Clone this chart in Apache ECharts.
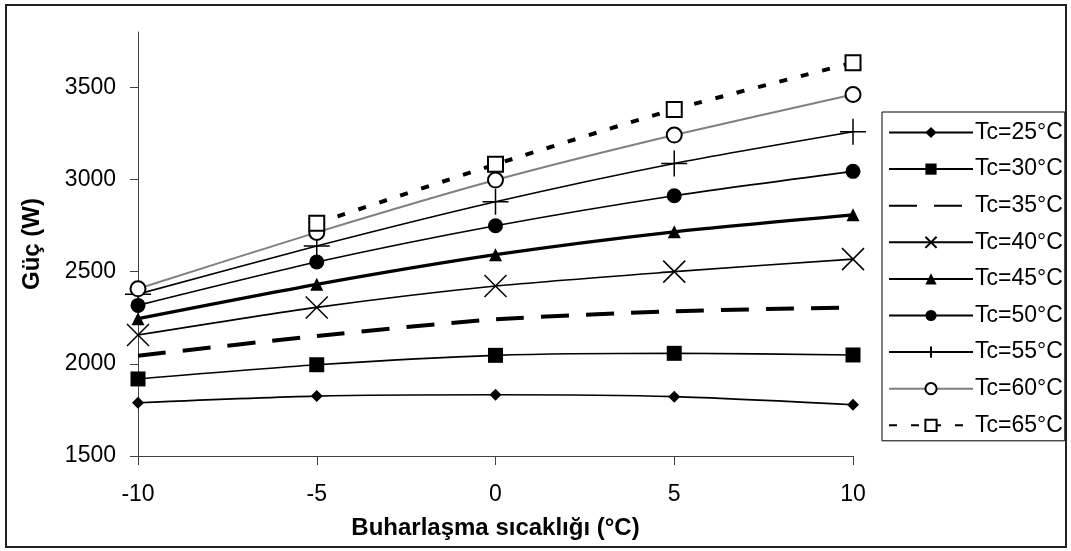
<!DOCTYPE html>
<html>
<head>
<meta charset="utf-8">
<script src="https://cdn.jsdelivr.net/npm/echarts@6/dist/echarts.min.js"></script>
<style>
html,body{margin:0;padding:0;background:#fff;}
#chart{width:1071px;height:551px;}
</style>
</head>
<body>
<div id="chart"></div>
<script>
// Evaporation temperatures (x) and compressor power (W) per condensing temperature
const xValues = [-10, -5, 0, 5, 10];
const yTicks = [1500, 2000, 2500, 3000, 3500];
const xTicks = [-10, -5, 0, 5, 10];
const seriesNames = ['Tc=25°C','Tc=30°C','Tc=35°C','Tc=40°C','Tc=45°C','Tc=50°C','Tc=55°C','Tc=60°C','Tc=65°C'];
const tc25 = [1789, 1825, 1832, 1822, 1778];
const tc30 = [1918, 1995, 2046, 2057, 2048];
const tc35 = [2044, 2151, 2241, 2285, 2306];
const tc40 = [2156, 2306, 2422, 2500, 2568];
const tc45 = [2245, 2431, 2592, 2716, 2808];
const tc50 = [2317, 2552, 2749, 2912, 3044];
const tc55 = [2378, 2639, 2879, 3087, 3259];
const tc60 = [2407, 2713, 2997, 3241, 3461];
const tc65 = [null, 2762, 3082, 3380, 3633];

function pairs(vals){
  const out = [];
  xValues.forEach((x,i)=>{ if(vals[i]!==null) out.push([x, vals[i]]); });
  return out;
}

const FONT = '"Liberation Sans", Arial, sans-serif';
const xPath = 'path://M0,0L10,10M10,0L0,10';
const plusPath = 'path://M5,0L5,10M0,5L10,5';

function mk(name, vals, opt){
  return Object.assign({
    name: name,
    type: 'line',
    data: pairs(vals),
    smooth: 0.25,
    showSymbol: true,
    symbol: 'circle',
    symbolSize: 14,
    lineStyle: {color:'#000', width:1.6, type:'solid'},
    itemStyle: {color:'#000', borderColor:'#000', borderWidth:0},
    emphasis: {disabled:true},
    animation: false
  }, opt);
}

const series = [
  mk(seriesNames[0], tc25, {symbol:'diamond', symbolSize:12}),
  mk(seriesNames[1], tc30, {symbol:'rect', symbolSize:15}),
  mk(seriesNames[2], tc35, {symbol:'circle', showSymbol:false, symbolSize:0,
      itemStyle:{color:'rgba(0,0,0,0)', borderColor:'rgba(0,0,0,0)', borderWidth:0},
      lineStyle:{color:'#000', width:4, type:[28,17]}}),
  mk(seriesNames[3], tc40, {symbol:xPath, symbolSize:22, itemStyle:{color:'#000', borderColor:'#000', borderWidth:1.5}}),
  mk(seriesNames[4], tc45, {symbol:'triangle', symbolSize:13, lineStyle:{color:'#000', width:3.2}}),
  mk(seriesNames[5], tc50, {symbol:'circle', symbolSize:15}),
  mk(seriesNames[6], tc55, {symbol:plusPath, symbolSize:26, itemStyle:{color:'#000', borderColor:'#000', borderWidth:1.5}}),
  mk(seriesNames[7], tc60, {symbol:'emptyCircle', symbolSize:15, lineStyle:{color:'#808080', width:2}, itemStyle:{color:'#000', borderColor:'#000', borderWidth:1.5}}),
  mk(seriesNames[8], tc65, {symbol:'emptyRect', symbolSize:15, lineStyle:{color:'#000', width:4, type:[8,14]}, itemStyle:{color:'#000', borderColor:'#000', borderWidth:1.5}})
];

const chart = echarts.init(document.getElementById('chart'), null, {renderer:'canvas'});
chart.setOption({
  backgroundColor: '#fff',
  animation: false,
  textStyle: {fontFamily: FONT},
  graphic: [{
    type:'rect', shape:{x:6, y:5, width:1060, height:542},
    style:{fill:'none', stroke:'#222', lineWidth:2}, silent:true, z:-1
  }],
  grid: {left:138, right:218, top:32, bottom:95, containLabel:false},
  legend: {
    orient:'vertical', left:882, top:112,
    data: seriesNames,
    itemWidth:84, itemHeight:14, itemGap:13.6,
    padding:[9,2,4,6],
    borderColor:'#000', borderWidth:1, backgroundColor:'#fff',
    selectedMode:false,
    textStyle:{fontFamily:FONT, fontSize:23, color:'#000', lineHeight:23, padding:[0,0,0,-3]}
  },
  xAxis: {
    type:'value', min:-10, max:10, interval:5,
    name:'Buharlaşma sıcaklığı (°C)', nameLocation:'middle', nameGap:72,
    nameTextStyle:{fontFamily:FONT, fontSize:24, fontWeight:'bold', color:'#000', verticalAlign:'middle'},
    axisLine:{show:true, onZero:false, lineStyle:{color:'#404040', width:1}},
    axisTick:{show:true, inside:false, length:9, lineStyle:{color:'#404040'}, customValues: xTicks},
    axisLabel:{fontFamily:FONT, fontSize:23, color:'#000', margin:27, lineHeight:23, customValues: xTicks,
      formatter: v => String(v)},
    splitLine:{show:false}
  },
  yAxis: {
    type:'value', min:1500, max:3800, interval:500,
    name:'Güç (W)', nameLocation:'middle', nameGap:106, nameRotate:90,
    nameTextStyle:{fontFamily:FONT, fontSize:24, fontWeight:'bold', color:'#000', verticalAlign:'middle'},
    axisLine:{show:true, onZero:false, lineStyle:{color:'#404040', width:1}},
    axisTick:{show:true, inside:false, length:8, lineStyle:{color:'#404040'}, customValues: yTicks},
    axisLabel:{fontFamily:FONT, fontSize:23, color:'#000', margin:22, customValues: yTicks,
      formatter: v => String(v)},
    splitLine:{show:false}
  },
  series: series
});
</script>
</body>
</html>
